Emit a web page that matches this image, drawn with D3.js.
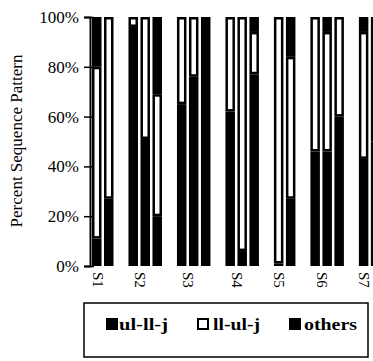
<!DOCTYPE html>
<html><head><meta charset="utf-8">
<script src="https://cdn.jsdelivr.net/npm/d3@7"></script>
<style>
html,body{margin:0;padding:0;background:#fff;}
svg{display:block;}
</style></head>
<body>
<svg id="chart" width="373" height="361"></svg>
<script>
// ---- data ----
const groups = ["S1","S2","S3","S4","S5","S6","S7"];
const barGroup = [0,0,1,1,1,2,2,2,3,3,3,4,4,5,5,5,6,6];
const ulllj  = [11,27,96,51,20,65,76,100,62, 6,77, 1,27,46,46,60,43,50];
const llulj  = [69,73, 4,49,49,35,24,  0,38,94,17,99,57,54,48,40,51,50];
const others = [20, 0, 0, 0,31, 0, 0,  0, 0, 0, 6, 0,16, 0, 6, 0, 6, 0];
const seriesKeys = ["ul-ll-j","ll-ul-j","others"];
const yTicks = [0,20,40,60,80,100];

// ---- layout ----
const svg = d3.select("#chart");
const serif = "'Liberation Serif','Times New Roman',serif";
const bw = 9.5;
const gapRatio = 1.04;
const slot = barGroup.map((g,i)=> i + g*gapRatio);
const x = d3.scaleLinear().domain([0,24]).range([92, 92+288]);
const y = d3.scaleLinear().domain([0,100]).range([266,17]);

const rows = barGroup.map((g,i)=>({i, g, "ul-ll-j":ulllj[i], "ll-ul-j":llulj[i], "others":others[i]}));
const stacked = d3.stack().keys(seriesKeys)(rows);

const fills = {"ul-ll-j":"#000","ll-ul-j":"#fff","others":"#000"};
const sw = 2.5;

stacked.forEach(layer=>{
  const key = layer.key;
  const inset = key==="ll-ul-j" ? sw/2 : 0;
  svg.append("g").attr("class","series-"+key)
    .selectAll("rect").data(layer.filter(d=>d[1]-d[0]>0)).join("rect")
    .attr("x", d=> x(slot[d.data.i]) + inset)
    .attr("y", d=> y(d[1]) + inset)
    .attr("width", bw - 2*inset)
    .attr("height", d=> Math.max(0, y(d[0]) - y(d[1]) - 2*inset))
    .attr("fill", fills[key])
    .attr("stroke", key==="ll-ul-j" ? "#000" : "none")
    .attr("stroke-width", key==="ll-ul-j" ? sw : 0);
});

// ---- y axis ----
const axisX = 90;
const ay = svg.append("g").attr("transform",`translate(${axisX},0)`)
  .call(d3.axisLeft(y).tickValues(yTicks).tickFormat(d=>d+"%").tickSizeOuter(0).tickSize(6).tickPadding(5));
ay.select(".domain").attr("stroke","#000").attr("stroke-width",2);
ay.selectAll(".tick line").attr("x1",4).attr("x2",-6).attr("stroke","#000").attr("stroke-width",1.5);
ay.selectAll(".tick text").attr("font-family",serif).attr("font-size",17).attr("fill","#000").attr("x",-11);

// y title
svg.append("text")
  .attr("transform","translate(22,141) rotate(-90)")
  .attr("text-anchor","middle")
  .attr("font-family",serif).attr("font-size",17)
  .text("Percent Sequence Pattern");

// ---- x labels (near each group's centre) ----
const groupCentre = groups.map((g,gi)=>{
  const idx = barGroup.map((bg,i)=>bg===gi?i:-1).filter(i=>i>=0);
  const x0 = x(slot[idx[0]]), x1 = x(slot[idx[idx.length-1]]) + bw;
  return (x0+x1)/2;
});
svg.append("g").selectAll("text").data(groups).join("text")
  .attr("transform",(d,gi)=>`translate(${groupCentre[gi] - 5},272) rotate(90)`)
  .attr("dy","0.35em")
  .attr("font-family",serif).attr("font-size",15)
  .text(d=>d);

// ---- legend ----
const lg = svg.append("g");
lg.append("rect").attr("x",84).attr("y",303).attr("width",284).attr("height",54)
  .attr("fill","none").attr("stroke","#000").attr("stroke-width",1.5);
const legItems = [
  {key:"ul-ll-j", sx:106, tx:119, tl:49},
  {key:"ll-ul-j", sx:197, tx:213, tl:47},
  {key:"others", sx:289, tx:304, tl:53}
];
legItems.forEach(it=>{
  const white = fills[it.key]==="#fff";
  lg.append("rect").attr("x",it.sx + (white?1:0)).attr("y",318 + (white?1:0))
    .attr("width",12 - (white?2:0)).attr("height",12 - (white?2:0))
    .attr("fill",fills[it.key]).attr("stroke",white?"#000":"none").attr("stroke-width",white?2:0);
  lg.append("text").attr("x",it.tx).attr("y",330)
    .attr("font-family",serif).attr("font-size",16).attr("font-weight","bold")
    .attr("textLength",it.tl).attr("lengthAdjust","spacingAndGlyphs")
    .text(it.key);
});
</script>
</body></html>
